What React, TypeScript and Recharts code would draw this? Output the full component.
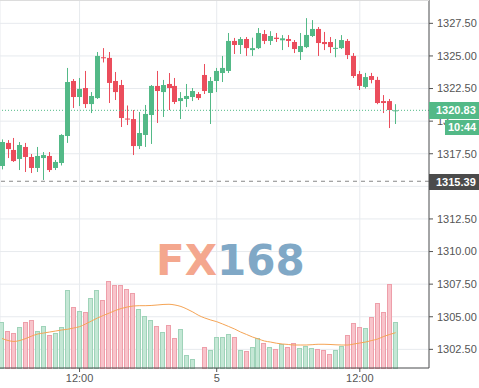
import { ComposedChart, Bar, Line, XAxis, YAxis, CartesianGrid, ReferenceLine } from 'recharts';

const UP = '#53b987';
const DOWN = '#eb4d5c';

const opens = [
  1316.56, 1318.33, 1317.79, 1317.1, 1318.02, 1317.25, 1316.41, 1317.17, 1317.33, 1316.41,
  1316.79, 1318.86, 1323.08, 1321.85, 1322.54, 1321.31, 1321.77, 1324.9, 1324.85, 1323.08,
  1322.77, 1320.2, 1320.16, 1318.09, 1318.94, 1320.47, 1322.7, 1322.23, 1322.85, 1322.7,
  1321.54, 1321.7, 1321.85, 1322.08, 1323.54, 1322.16, 1323.08, 1323.69, 1323.85, 1326.15,
  1325.84, 1326.3, 1325.45, 1325.6, 1326.68, 1326.15, 1326.4, 1326.2, 1326.3, 1326.07,
  1325.3, 1325.68, 1326.53, 1327.07, 1326.07, 1326.07, 1325.55, 1325.6, 1326.15, 1325.0,
  1323.61, 1322.62, 1323.46, 1323.16, 1321.54, 1321.54, 1320.78,
];
const highs = [
  1318.6, 1318.55, 1318.71, 1318.4, 1318.33, 1317.48, 1318.02, 1317.63, 1317.63, 1317.02,
  1319.0, 1324.08, 1323.23, 1323.31, 1323.85, 1322.23, 1325.3, 1325.6, 1325.3, 1323.77,
  1323.16, 1321.2, 1320.85, 1320.7, 1321.24, 1322.77, 1323.85, 1323.16, 1323.69, 1323.31,
  1322.23, 1322.85, 1322.54, 1322.23, 1324.38, 1323.38, 1324.08, 1325.0, 1326.76, 1326.38,
  1326.45, 1326.45, 1326.4, 1327.14, 1326.99, 1326.9, 1326.76, 1326.6, 1326.6, 1326.22,
  1326.76, 1327.9, 1327.75, 1327.22, 1326.84, 1326.45, 1326.3, 1326.6, 1326.3, 1325.22,
  1323.85, 1323.7, 1323.7, 1323.4, 1322.0, 1321.7, 1321.3,
];
const lows = [
  1316.3, 1317.17, 1316.87, 1316.25, 1316.1, 1316.02, 1316.1, 1315.49, 1316.1, 1316.25,
  1316.6, 1318.33, 1321.01, 1321.16, 1321.01, 1320.62, 1321.7, 1324.5, 1321.39, 1321.62,
  1319.55, 1319.7, 1317.4, 1317.86, 1318.02, 1318.25, 1319.86, 1320.32, 1320.85, 1321.31,
  1320.16, 1321.08, 1321.54, 1321.62, 1322.08, 1319.78, 1322.23, 1323.0, 1323.69, 1325.15,
  1325.15, 1325.0, 1325.0, 1325.53, 1325.91, 1325.84, 1326.07, 1325.45, 1325.68, 1325.22,
  1324.69, 1325.6, 1326.45, 1325.0, 1325.45, 1325.22, 1324.9, 1325.53, 1324.76, 1323.31,
  1322.39, 1322.5, 1322.9, 1321.3, 1320.62, 1319.47, 1319.78,
];
const closes = [
  1318.4, 1317.86, 1316.94, 1318.17, 1317.25, 1316.41, 1317.33, 1317.4, 1316.25, 1316.87,
  1318.94, 1323.0, 1321.85, 1322.47, 1321.31, 1321.93, 1325.0, 1324.82, 1322.93, 1322.23,
  1320.24, 1320.12, 1318.09, 1319.09, 1320.55, 1322.7, 1322.31, 1322.77, 1322.54, 1321.47,
  1321.77, 1321.93, 1322.31, 1321.77, 1322.31, 1323.08, 1323.85, 1324.08, 1326.15, 1325.84,
  1326.3, 1325.6, 1325.6, 1326.76, 1326.15, 1326.53, 1326.3, 1326.35, 1326.15, 1325.53,
  1325.76, 1326.61, 1327.07, 1325.99, 1325.91, 1325.68, 1325.62, 1326.22, 1325.07, 1323.46,
  1322.7, 1323.38, 1323.16, 1321.39, 1321.39, 1320.85, 1320.83,
];
const volumes = [
  1143, 925, 868, 1018, 1143, 1200, 925, 1050, 825, 868,
  1018, 1950, 1518, 1425, 1393, 1758, 1950, 1700, 2175, 2075,
  2075, 1975, 1868, 1468, 1308, 1200, 1050, 900, 1075, 743,
  975, 325, 225, 12, 518, 450, 768, 768, 843, 783,
  450, 425, 518, 743, 633, 518, 468, 600, 518, 618,
  493, 550, 493, 468, 450, 343, 450, 550, 825, 1118,
  1018, 993, 1268, 1618, 1393, 2100, 1143,
];
const volumeMa = [
  738, 688, 663, 688, 738, 800, 850, 875, 900, 925,
  950, 968, 1000, 1033, 1100, 1175, 1250, 1313, 1375, 1438,
  1488, 1525, 1550, 1558, 1558, 1563, 1575, 1588, 1593, 1575,
  1538, 1475, 1400, 1313, 1250, 1200, 1158, 1100, 1038, 975,
  900, 838, 775, 725, 675, 650, 620, 600, 588, 575,
  575, 575, 583, 593, 593, 588, 580, 575, 575, 600,
  625, 650, 688, 725, 788, 838, 883,
];

const xTicks = [13, 36, 60];
const xTickLabels = ['12:00', '5', '12:00'];
const priceTicks = [1302.5, 1305, 1307.5, 1310, 1312.5, 1315, 1317.5, 1320, 1322.5, 1325, 1327.5];
// labels hidden under the price tags
const coveredTicks = [1315];
const clippedTicks = [1320];
const lastPrice = 1320.83;
const prevClose = 1315.39;
const countdown = '10:44';

const X_DOMAIN = [-0.34, 71.6];

const data = opens.map((open, i) => ({
  t: i,
  open,
  high: highs[i],
  low: lows[i],
  close: closes[i],
  range: [lows[i], highs[i]],
  volume: volumes[i],
  volumeMa: volumeMa[i],
}));

function Candle(props: any) {
  const { x, y, width, height, payload } = props;
  const { open, close, high, low } = payload;
  const top = Math.min(y, y + height);
  const h = Math.abs(height);
  const k = h / (high - low || 1);
  const color = close >= open ? UP : DOWN;
  const bodyTop = top + (high - Math.max(open, close)) * k;
  const bodyH = Math.max(1, Math.abs(open - close) * k);
  const cx = Math.round(x + width / 2) + 0.5;
  return (
    <g>
      <line x1={cx} x2={cx} y1={top} y2={top + h} stroke={color} strokeWidth={1} />
      <rect x={cx - 2.5} y={bodyTop} width={5} height={bodyH} fill={color} />
    </g>
  );
}

function VolumeBar(props: any) {
  const { x, y, width, height, payload } = props;
  if (!height || height < 1) return null;
  const up = payload.close >= payload.open;
  return (
    <rect
      x={Math.round(x) + 0.5}
      y={Math.round(y) + 0.5}
      width={Math.round(width) - 1}
      height={Math.round(height)}
      fill={up ? '#c4e7d5' : '#f8c4cb'}
      stroke={up ? '#9fd3b9' : '#ee9faa'}
      strokeWidth={1}
    />
  );
}

function PriceTick(props: any) {
  const { x, y, payload } = props;
  const v = payload.value;
  if (coveredTicks.includes(v)) return null;
  const label = v.toFixed(2);
  return (
    <text
      x={x}
      y={y}
      dy="0.355em"
      fill="#555"
      fontSize={11}
      textAnchor="start"
    >
      {clippedTicks.includes(v) ? label.slice(0, 2) : label}
    </text>
  );
}

const tagStyle: React.CSSProperties = {
  position: 'absolute',
  color: '#fff',
  fontSize: 11,
  fontWeight: 'bold',
  lineHeight: '16px',
  boxSizing: 'border-box',
};

export default function App() {
  return (
    <div
      style={{
        position: 'absolute',
        left: 0,
        top: 0,
        width: 479,
        height: 388,
        background: '#fff',
        fontFamily: '"Liberation Sans", Arial, sans-serif',
        overflow: 'hidden',
      }}
    >
      <ComposedChart width={479} height={388} data={data} margin={{ top: 0, right: 0, bottom: 0, left: 0 }}>
        <CartesianGrid stroke="#e7eaee" />
        <XAxis
          dataKey="t"
          type="number"
          domain={X_DOMAIN}
          allowDataOverflow
          ticks={xTicks}
          tickFormatter={(v) => xTickLabels[xTicks.indexOf(v)] ?? ''}
          height={20}
          tickSize={4}
          stroke="#555"
          tick={{ fill: '#555', fontSize: 11 }}
        />
        <XAxis xAxisId="vx" dataKey="t" type="number" domain={X_DOMAIN} allowDataOverflow hide />
        <YAxis
          orientation="right"
          type="number"
          domain={[1301.07, 1329.29]}
          allowDataOverflow
          ticks={priceTicks}
          width={50}
          tickSize={4}
          tickMargin={4}
          stroke="#555"
          tick={(p: any) => <PriceTick {...p} />}
        />
        <YAxis yAxisId="vol" domain={[0, 9200]} hide />
        <ReferenceLine y={prevClose} stroke="#888" strokeDasharray="4 4" />
        <ReferenceLine y={lastPrice} stroke={UP} strokeDasharray="1 2" />
        <Bar
          xAxisId="vx"
          yAxisId="vol"
          dataKey="volume"
          barSize={6}
          shape={(p: any) => <VolumeBar {...p} />}
          isAnimationActive={false}
        />
        <Line
          xAxisId="vx"
          yAxisId="vol"
          dataKey="volumeMa"
          type="monotone"
          stroke="#f5a455"
          strokeWidth={1}
          dot={false}
          isAnimationActive={false}
        />
        <Bar dataKey="range" barSize={5} shape={(p: any) => <Candle {...p} />} isAnimationActive={false} />
      </ComposedChart>
      <div style={{ position: 'absolute', left: 0, top: 0, width: 429, height: 1, background: '#dcdcdc' }} />
      <div
        style={{
          position: 'absolute',
          left: 0,
          top: 240,
          width: 479,
          paddingLeft: 156,
          boxSizing: 'border-box',
          fontFamily: '"DejaVu Sans", sans-serif',
          fontWeight: 'bold',
          fontSize: 42,
          lineHeight: '42px',
          pointerEvents: 'none',
        }}
      >
        <span style={{ color: '#f4a78e' }}>FX</span>
        <span style={{ color: '#80a8c6' }}>168</span>
      </div>
      <div style={{ ...tagStyle, left: 429, top: 102, width: 50, height: 17, background: UP, paddingLeft: 7, lineHeight: '17px' }}>
        {lastPrice.toFixed(2)}
      </div>
      <div style={{ ...tagStyle, left: 445, top: 120, width: 34, height: 15, background: UP, paddingLeft: 3, lineHeight: '15px' }}>
        {countdown}
      </div>
      <div style={{ ...tagStyle, left: 429, top: 174, width: 50, height: 16, background: '#4b4b4b', paddingLeft: 7 }}>
        {prevClose.toFixed(2)}
      </div>
    </div>
  );
}
